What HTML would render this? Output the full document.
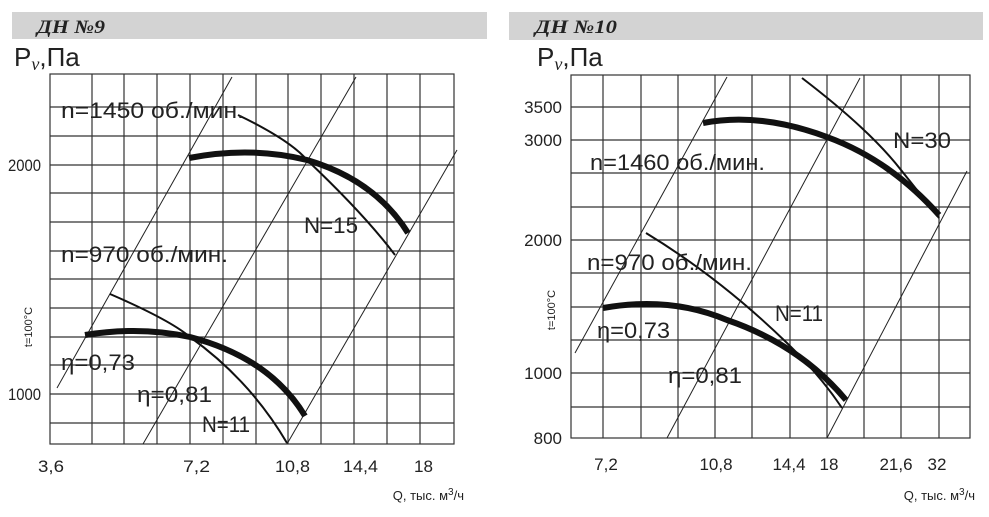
<!DOCTYPE html>
<html><head><meta charset="utf-8"><style>
body{margin:0;background:#fff}
svg{display:block}
text{font-family:"Liberation Sans","DejaVu Sans",sans-serif;fill:#222}
.g{stroke:#333;stroke-width:1.2;fill:none}
.d{stroke:#222;stroke-width:1;fill:none}
.t{stroke:#111;stroke-width:6;fill:none;stroke-linecap:butt}
.n{stroke:#111;stroke-width:2;fill:none}
.lb{font-size:22px}
.tk{font-size:17px}
.tt{font-family:"Liberation Serif",serif;font-style:italic;font-weight:bold;font-size:19px}
</style></head><body>
<svg width="989" height="517" viewBox="0 0 989 517">
<!-- LEFT -->
<rect x="12" y="12" width="475" height="27" fill="#d3d3d3"/>
<text x="37" y="33" class="tt" textLength="68" lengthAdjust="spacingAndGlyphs">ДН №9</text>
<text x="14" y="66" font-size="26">P<tspan font-family="Liberation Serif" font-style="italic" font-size="18" dy="4">v</tspan><tspan dy="-4">,Па</tspan></text>
<g class="g">
<rect x="50" y="74" width="404" height="370"/>
<path d="M92 74V444M124 74V444M157 74V444M190 74V444M223 74V444M256 74V444M288 74V444M321 74V444M354 74V444M387 74V444M420 74V444"/>
<path d="M50 107H454M50 136H454M50 165H454M50 193H454M50 222H454M50 251H454M50 279H454M50 308H454M50 337H454M50 365H454M50 394H454M50 423H454"/>
</g>
<g class="d">
<path d="M232 77L57 388"/><path d="M356 77L143 444"/><path d="M457 150L287 444"/>
</g>
<path class="t" d="M189 158Q250 146 307 160Q375 180 408 233"/>
<path class="n" d="M238 115Q290 140 307 160Q365 215 395 255"/>
<path class="t" d="M85 335Q140 326 190 337Q270 358 305 416"/>
<path class="n" d="M110 294Q170 320 190 337Q250 380 287 443"/>
<g class="lb">
<text x="61" y="118" textLength="183" lengthAdjust="spacingAndGlyphs">n=1450 об./мин.</text>
<text x="304" y="233" textLength="54" lengthAdjust="spacingAndGlyphs">N=15</text>
<text x="61" y="262" textLength="167" lengthAdjust="spacingAndGlyphs">n=970 об./мин.</text>
<text x="61" y="370" textLength="74" lengthAdjust="spacingAndGlyphs">η=0,73</text>
<text x="137" y="402" textLength="75" lengthAdjust="spacingAndGlyphs">η=0,81</text>
<text x="202" y="432" textLength="48" lengthAdjust="spacingAndGlyphs">N=11</text>
</g>
<g class="tk">
<text x="8" y="171" textLength="33" lengthAdjust="spacingAndGlyphs">2000</text><text x="8" y="400" textLength="33" lengthAdjust="spacingAndGlyphs">1000</text>
</g>
<g class="tk">
<text x="38" y="472" textLength="26" lengthAdjust="spacingAndGlyphs">3,6</text>
<text x="183" y="472" textLength="27" lengthAdjust="spacingAndGlyphs">7,2</text>
<text x="275" y="472" textLength="35" lengthAdjust="spacingAndGlyphs">10,8</text>
<text x="343" y="472" textLength="35" lengthAdjust="spacingAndGlyphs">14,4</text>
<text x="414" y="472" textLength="19" lengthAdjust="spacingAndGlyphs">18</text>
</g>
<text x="464" y="500" text-anchor="end" font-size="13">Q, тыс. м<tspan font-size="10" dy="-5">3</tspan><tspan dy="5">/ч</tspan></text>
<text transform="translate(32,327) rotate(-90)" font-size="11" text-anchor="middle">t=100°C</text>

<!-- RIGHT -->
<rect x="509" y="12" width="474" height="28" fill="#d3d3d3"/>
<text x="535" y="33" class="tt" textLength="82" lengthAdjust="spacingAndGlyphs">ДН №10</text>
<text x="537" y="66" font-size="26">P<tspan font-family="Liberation Serif" font-style="italic" font-size="18" dy="4">v</tspan><tspan dy="-4">,Па</tspan></text>
<g class="g">
<rect x="571" y="75" width="399" height="363"/>
<path d="M603 75V438M641 75V438M678 75V438M715 75V438M752 75V438M790 75V438M827 75V438M864 75V438M901 75V438M939 75V438"/>
<path d="M571 107H970M571 140H970M571 173H970M571 207H970M571 240H970M571 273H970M571 307H970M571 340H970M571 373H970M571 407H970"/>
</g>
<g class="d">
<path d="M727 77L575 353"/><path d="M860 78L667 438"/><path d="M967 171L827 438"/>
</g>
<path class="t" d="M703 123Q760 112 827 137Q890 160 939 215"/>
<path class="n" d="M802 78Q870 130 901 170Q925 200 939 218"/>
<path class="t" d="M603 308Q670 296 727 320Q800 345 846 400"/>
<path class="n" d="M646 233Q720 278 787 343Q820 375 842 408"/>
<g class="lb">
<text x="590" y="170" textLength="175" lengthAdjust="spacingAndGlyphs">n=1460 об./мин.</text>
<text x="893" y="148" textLength="58" lengthAdjust="spacingAndGlyphs">N=30</text>
<text x="587" y="270" textLength="165" lengthAdjust="spacingAndGlyphs">n=970 об./мин.</text>
<text x="775" y="321" textLength="48" lengthAdjust="spacingAndGlyphs">N=11</text>
<text x="597" y="338" textLength="73" lengthAdjust="spacingAndGlyphs">η=0,73</text>
<text x="668" y="383" textLength="74" lengthAdjust="spacingAndGlyphs">η=0,81</text>
</g>
<g class="tk" text-anchor="end">
<text x="562" y="113">3500</text><text x="562" y="146">3000</text><text x="562" y="246">2000</text><text x="562" y="379">1000</text><text x="562" y="444">800</text>
</g>
<g class="tk" text-anchor="middle">
<text x="606" y="470">7,2</text><text x="716" y="470">10,8</text><text x="789" y="470">14,4</text><text x="829" y="470">18</text><text x="896" y="470">21,6</text><text x="937" y="470">32</text>
</g>
<text x="975" y="500" text-anchor="end" font-size="13">Q, тыс. м<tspan font-size="10" dy="-5">3</tspan><tspan dy="5">/ч</tspan></text>
<text transform="translate(555,310) rotate(-90)" font-size="11" text-anchor="middle">t=100°C</text>
</svg>
</body></html>
